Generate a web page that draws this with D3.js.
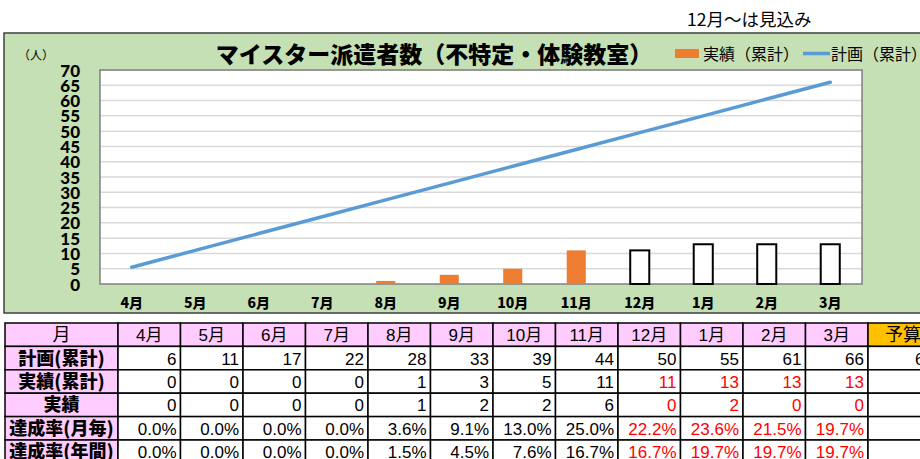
<!DOCTYPE html>
<html>
<head>
<meta charset="utf-8">
<script src="https://cdn.jsdelivr.net/npm/d3@7"></script>
<style>
  body { margin: 0; background: #fff; }
  svg { display: block; }
</style>
</head>
<body>
<div id="chart"></div>
<script>
// data
const months = ['4月', '5月', '6月', '7月', '8月', '9月', '10月', '11月', '12月', '1月', '2月', '3月'];
const planCum = [6, 11, 17, 22, 28, 33, 39, 44, 50, 55, 61, 66];
// the drawn plan line is straight: unrounded plan values
const planLine = [5.5, 11, 16.5, 22, 27.5, 33, 38.5, 44, 49.5, 55, 60.5, 66];
const actualCum = [0, 0, 0, 0, 1, 3, 5, 11, 11, 13, 13, 13];
const actualMonthly = [0, 0, 0, 0, 1, 2, 2, 6, 0, 2, 0, 0];
const rateMonthly = ['0.0%', '0.0%', '0.0%', '0.0%', '3.6%', '9.1%', '13.0%', '25.0%', '22.2%', '23.6%', '21.5%', '19.7%'];
const rateAnnual = ['0.0%', '0.0%', '0.0%', '0.0%', '1.5%', '4.5%', '7.6%', '16.7%', '16.7%', '19.7%', '19.7%', '19.7%'];
const budget = 66;
const forecastFrom = 8; // 12月～は見込み
const yTicks = [0, 5, 10, 15, 20, 25, 30, 35, 40, 45, 50, 55, 60, 65, 70];
const rowLabels = ['月', '計画(累計)', '実績(累計)', '実績', '達成率(月毎)', '達成率(年間)'];

const W = 920, H = 459;
const jp = "'Noto Sans CJK JP', sans-serif";
const num = "'Liberation Sans', 'Noto Sans CJK JP', sans-serif";

const svg = d3.select('#chart').append('svg')
    .attr('width', W)
    .attr('height', H);

// note above chart
svg.append('text')
    .attr('x', 687).attr('y', 26)
    .style('font-family', jp)
    .style('font-size', '17.5px')
    .style('fill', '#000')
    .text('12月～は見込み');

// chart frame
svg.append('rect')
    .attr('x', 4).attr('y', 33)
    .attr('width', 930).attr('height', 280)
    .attr('fill', '#c5e0b4')
    .attr('stroke', '#404040')
    .attr('stroke-width', 1.5);

const plot = { left: 100, right: 862, top: 70, bottom: 284 };

const x = d3.scaleBand()
    .domain(months)
    .range([plot.left, plot.right]);

const xBar = d3.scaleBand()
    .domain(months)
    .range([plot.left, plot.right])
    .paddingInner(0.7)
    .paddingOuter(0.35);

const y = d3.scaleLinear()
    .domain([0, 70])
    .range([plot.bottom, plot.top]);

svg.append('rect')
    .attr('x', plot.left).attr('y', plot.top)
    .attr('width', plot.right - plot.left).attr('height', plot.bottom - plot.top)
    .attr('fill', '#fff');

// gridlines
svg.append('g')
    .selectAll('line')
    .data(yTicks.filter(t => t > 0))
    .join('line')
    .attr('x1', plot.left).attr('x2', plot.right)
    .attr('y1', d => y(d)).attr('y2', d => y(d))
    .attr('stroke', '#d9d9d9')
    .attr('stroke-width', 1.5);

svg.append('rect')
    .attr('x', plot.left).attr('y', plot.top)
    .attr('width', plot.right - plot.left).attr('height', plot.bottom - plot.top)
    .attr('fill', 'none')
    .attr('stroke', '#7f7f7f')
    .attr('stroke-width', 1.5);

// y axis
const yAxis = svg.append('g')
    .attr('transform', `translate(${plot.left},0)`)
    .call(d3.axisLeft(y).tickValues(yTicks).tickSize(0).tickPadding(20));
yAxis.select('.domain').remove();
yAxis.selectAll('text')
    .attr('dy', '0.36em')
    .style('font-family', "Lato, sans-serif")
    .style('font-weight', '900')
    .style('font-size', '17px')
    .style('fill', '#000');

svg.append('text')
    .attr('x', 18).attr('y', 60)
    .style('font-family', jp)
    .style('font-size', '12px')
    .text('（人）');

// x axis
const xAxis = svg.append('g')
    .attr('transform', `translate(0,${plot.bottom})`)
    .call(d3.axisBottom(x).tickSize(0).tickPadding(14));
xAxis.select('.domain').remove();
xAxis.selectAll('text')
    .style('font-family', jp)
    .style('font-weight', '900')
    .style('font-size', '14px')
    .style('fill', '#000');

// bars (実績 累計): orange for actual, outlined for forecast
svg.append('g')
    .selectAll('rect')
    .data(months.map((m, i) => ({ m, v: actualCum[i], f: i >= forecastFrom })))
    .join('rect')
    .attr('x', d => xBar(d.m))
    .attr('width', xBar.bandwidth())
    .attr('y', d => y(d.v))
    .attr('height', d => y(0) - y(d.v))
    .attr('fill', d => d.f ? '#fff' : '#ed7d31')
    .attr('stroke', d => d.f ? '#000' : 'none')
    .attr('stroke-width', 2);

// plan line
const line = d3.line()
    .x((d, i) => x(months[i]) + x.bandwidth() / 2)
    .y(d => y(d));
svg.append('path')
    .datum(planLine)
    .attr('d', line)
    .attr('fill', 'none')
    .attr('stroke', '#5b9bd5')
    .attr('stroke-width', 3.5)
    .attr('stroke-linecap', 'round');

// title
svg.append('text')
    .attr('x', 434).attr('y', 63)
    .attr('text-anchor', 'middle')
    .style('font-family', jp)
    .style('font-weight', '900')
    .style('font-size', '23px')
    .text('マイスター派遣者数（不特定・体験教室）');

// legend
svg.append('rect')
    .attr('x', 675).attr('y', 49)
    .attr('width', 24).attr('height', 9)
    .attr('fill', '#ed7d31');
svg.append('text')
    .attr('x', 703).attr('y', 59.5)
    .style('font-family', jp)
    .style('font-size', '16px')
    .text('実績（累計）');
svg.append('line')
    .attr('x1', 803).attr('x2', 830)
    .attr('y1', 53.5).attr('y2', 53.5)
    .attr('stroke', '#5b9bd5')
    .attr('stroke-width', 3.5);
svg.append('text')
    .attr('x', 831).attr('y', 59.5)
    .style('font-family', jp)
    .style('font-size', '16px')
    .text('計画（累計）');

// table
const tx = d3.scaleBand()
    .domain(months)
    .range([118, 868]);
const ty = d3.scaleBand()
    .domain(rowLabels)
    .range([323, 323 + 23.4 * rowLabels.length]);
const colW = tx.bandwidth();

const table = svg.append('g');
const cells = [];
rowLabels.forEach((r, ri) => {
    cells.push({ x: 5, w: 113, r, text: r, fill: '#ffccff', head: true, anchor: 'middle', bold: ri > 0 });
    months.forEach((m, i) => {
        let text, color = '#000';
        if (ri === 0) text = m;
        else if (ri === 1) text = planCum[i];
        else if (ri === 2) text = actualCum[i];
        else if (ri === 3) text = actualMonthly[i];
        else if (ri === 4) text = rateMonthly[i];
        else text = rateAnnual[i];
        if (ri >= 2 && i >= forecastFrom) color = '#ff0000';
        cells.push({ x: tx(m), w: colW, r, text, color, fill: ri === 0 ? '#ffccff' : '#fff', anchor: ri === 0 ? 'middle' : 'end' });
    });
    cells.push({ x: 868, w: 70, r, text: ri === 0 ? '予算' : (ri === 1 ? budget : ''), fill: ri === 0 ? '#ffc000' : '#fff', anchor: ri === 0 ? 'middle' : 'end', head: ri === 0 });
});

table.selectAll('rect')
    .data(cells)
    .join('rect')
    .attr('x', d => d.x)
    .attr('y', d => ty(d.r))
    .attr('width', d => d.w)
    .attr('height', ty.bandwidth())
    .attr('fill', d => d.fill)
    .attr('stroke', '#000')
    .attr('stroke-width', 1.5);

table.selectAll('text')
    .data(cells)
    .join('text')
    .attr('x', d => d.anchor === 'middle' ? d.x + d.w / 2 : d.x + d.w - 4)
    .attr('y', d => ty(d.r) + ty.bandwidth() / 2 + 6.5)
    .attr('text-anchor', d => d.anchor)
    .style('font-family', d => d.head ? jp : num)
    .style('font-weight', d => d.bold ? '900' : '400')
    .style('font-size', d => d.head ? '18px' : '17px')
    .style('fill', d => d.color || '#000')
    .text(d => d.text);
</script>
</body>
</html>
